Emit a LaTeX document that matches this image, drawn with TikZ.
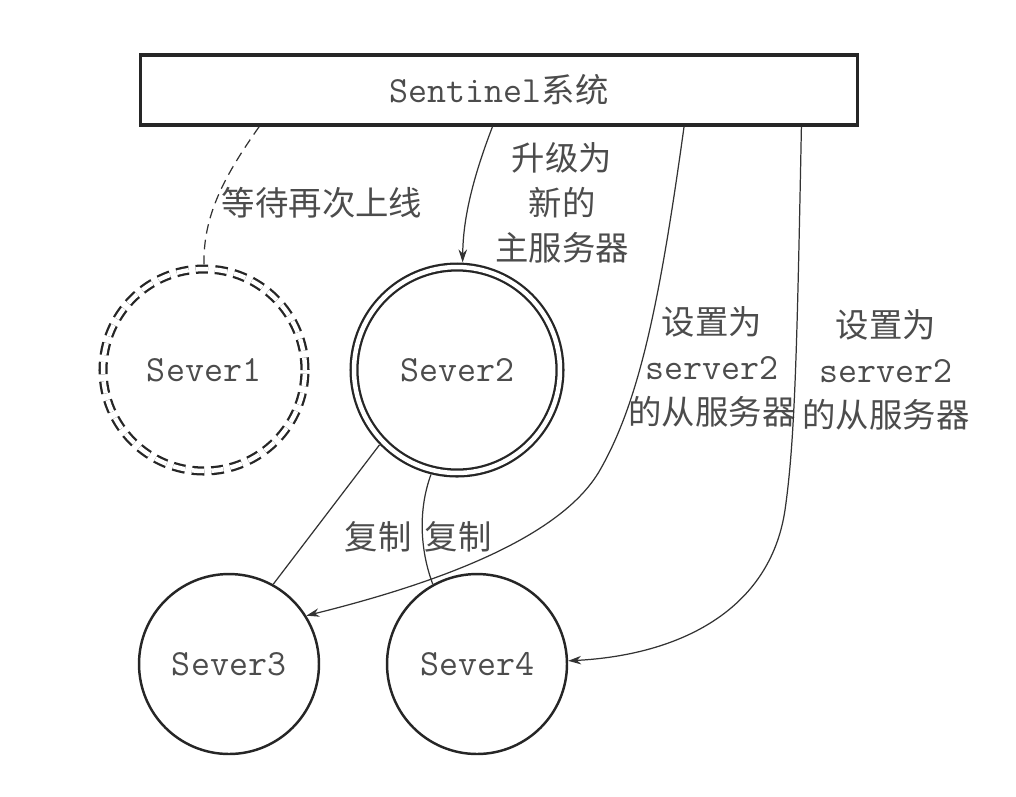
\documentclass[tikz,border=0pt]{standalone}
\usepackage{fontspec}
\setmainfont{Noto Sans CJK SC}
\usetikzlibrary{arrows.meta,calc}
\newcommand{\mono}[1]{{\fontsize{21}{25.5}\selectfont\ttfamily #1}}
\begin{document}
\begin{tikzpicture}[x=0.02cm,y=-0.02cm,
  txt/.style={text=black!70, font=\fontsize{19}{25.5}\selectfont, inner sep=0pt, align=center},
  sysbox/.style={draw=black!85, line width=1.8pt, minimum width=14.34cm, minimum height=1.4cm, txt},
  srvd/.style={circle, draw=black!85, line width=1.3pt, double=white, double distance=0.09cm, outer sep=0.095cm, txt},
  srv/.style={circle, draw=black!85, line width=1.4pt, minimum size=3.6cm, txt},
  conn/.style={draw=black!80, line width=0.7pt},
  arr/.style={conn, -{Stealth[length=0.26cm, width=0.17cm]}}
]
\useasboundingbox (0,0) rectangle (1016,796);

\node[sysbox] (sys) at (499,90) {\mono{Sentinel}系统};

\node[srvd, dash pattern=on 7pt off 4pt, minimum size=4.04cm] (s1) at (204,370) {\mono{Sever1}};
\node[srvd, minimum size=4.12cm] (s2) at (457,370) {\mono{Sever2}};
\node[srv] (s3) at (229,664) {\mono{Sever3}};
\node[srv] (s4) at (477,664) {\mono{Sever4}};

% labels
\node[txt] (l1) at (322,203) {等待再次上线};
\node[txt] (l2) at (562,203) {升级为\\新的\\主服务器};
\node[txt] (l3) at (712,367) {设置为\\\mono{server2}\\的从服务器};
\node[txt] (l4) at (886,370) {设置为\\\mono{server2}\\的从服务器};
\node[txt] (l5) at (378,537) {复制};
\node[txt] (l6) at (458,537) {复制};

% connectors
\draw[conn, dash pattern=on 5.5pt off 3.5pt] ($(sys.south west)!0.167!(sys.south east)$) .. controls (225,175) and (203,215) .. (s1.north);
\draw[arr] ($(sys.south west)!0.491!(sys.south east)$) .. controls (472,180) and (463,220) .. (s2.87);
\draw[arr] ($(sys.south west)!0.757!(sys.south east)$) .. controls (660,300) and (640,400) .. (600,470)
   .. controls (560,540) and (430,585) .. (s3.32);
\draw[arr] ($(sys.south west)!0.920!(sys.south east)$) .. controls (797,350) and (795,440) .. (785,510)
   .. controls (770,610) and (680,655) .. (s4.2);
\draw[conn] (s2.224) -- (s3.61);
\draw[conn] (s2.256) .. controls (418,510) and (420,550) .. (s4.119);
\end{tikzpicture}
\end{document}
